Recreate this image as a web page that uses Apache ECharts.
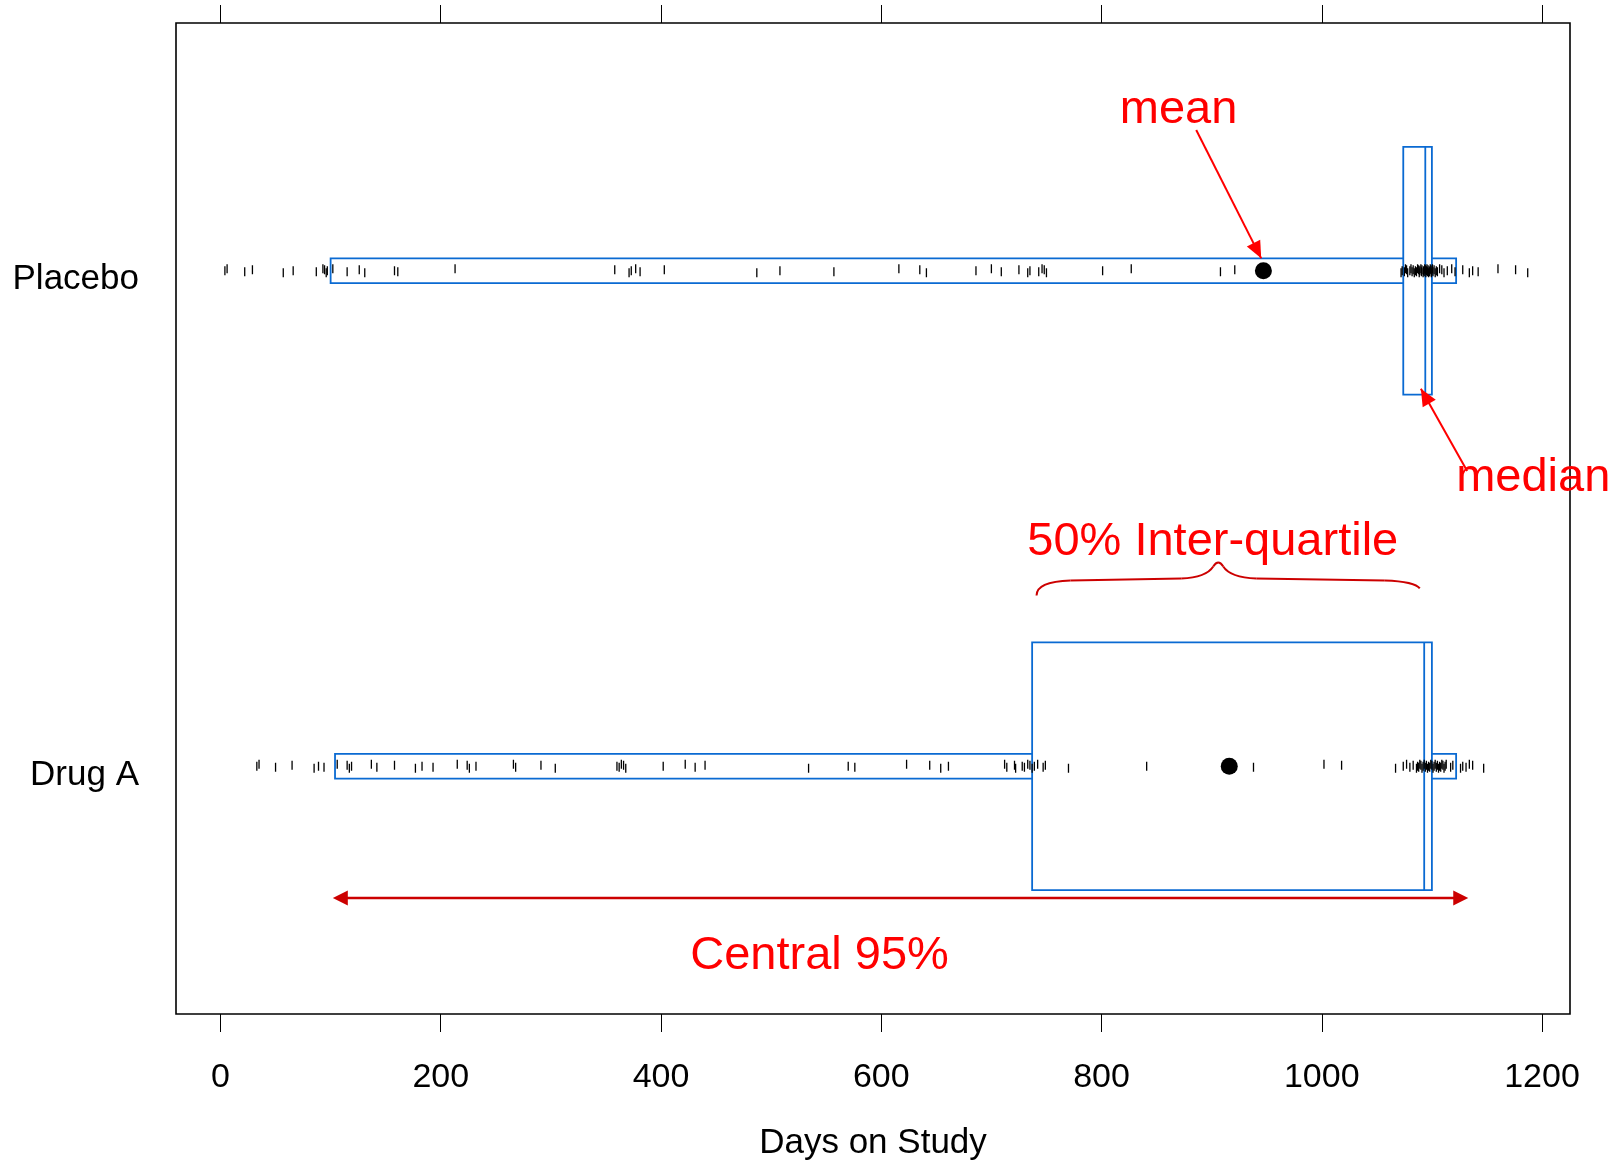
<!DOCTYPE html>
<html>
<head>
<meta charset="utf-8">
<script src="https://cdn.jsdelivr.net/npm/echarts@6/dist/echarts.min.js"></script>
<style>
html,body{margin:0;padding:0;background:#fff;}
#main{width:1621px;height:1161px;}
</style>
</head>
<body>
<div id="main"></div>
<script>
// ---------------- DATA ----------------
const groups = ['Placebo', 'Drug A'];
const groupPos = [2, 1];
const lo95 = [100, 104];
const q1 = [1074, 737];
const median = [1094, 1093];
const q3 = [1100, 1100];
const hi95 = [1122, 1122];
const means = [947, 916];
const xTicks = [0, 200, 400, 600, 800, 1000, 1200];

const placeboRug = [4, 6, 22, 29, 57, 66, 87, 93, 94.5, 96, 97, 102, 115, 126, 131, 158, 161, 213,
  358, 371, 373, 377, 381, 403, 487, 508, 557, 616, 635, 641, 686, 700, 709, 725, 733, 735, 743,
  746, 748, 750, 801, 827, 908, 921,
  1072, 1073, 1075, 1076, 1077, 1078, 1080, 1081, 1082, 1083, 1084, 1085, 1086, 1087, 1088, 1088.5,
  1089, 1090, 1090.5, 1091, 1092, 1092.5, 1093, 1093.5, 1094, 1094.5, 1095, 1095.5, 1096, 1096.5,
  1097, 1097.5, 1098, 1098.5, 1099, 1099.5, 1100, 1100.5, 1101, 1102, 1103, 1104, 1105, 1107,
  1109, 1111, 1114, 1118, 1121, 1128, 1134, 1137, 1142, 1160, 1176, 1187];

const drugRug = [33, 35, 50, 65, 85, 89, 94, 106, 115, 117, 119, 137, 142, 158, 177, 183, 193, 215,
  224, 226, 232, 266, 268, 291, 304, 360, 362, 364, 366, 368, 402, 422, 431, 440, 534, 570, 576,
  623, 644, 654, 661, 712, 714, 721, 722, 728, 730, 733, 735, 737, 739, 742, 747, 749, 770, 841,
  938, 1002, 1018, 1067, 1074, 1077, 1080, 1083, 1086, 1087, 1088, 1089, 1090, 1091, 1092, 1093,
  1094, 1095, 1096, 1097, 1098, 1099, 1100, 1101, 1102, 1103, 1104, 1105, 1106, 1107, 1108, 1109,
  1110, 1111, 1112, 1113, 1117, 1119, 1126, 1128, 1131, 1134, 1137, 1147];

// annotation anchors (data coordinates)
const meanLabel = {text: 'mean', at: [870, 2.325], from: [886, 2.284], to: [945, 2.025]};
const medianLabel = {text: 'median', at: [1192, 1.582], from: [1132, 1.596], to: [1090, 1.762]};
const iqrLabel = {text: '50% Inter-quartile', at: [901, 1.452], braceL: 741, braceR: 1089, braceMid: 906, braceY: 1.377};
const centralLabel = {text: 'Central 95%', at: [544, 0.616], from: 102, to: 1133, y: 0.734};

// ---------------- STYLE ----------------
const FONT = "'Liberation Sans', Arial, Helvetica, sans-serif";
const BOX_BLUE = '#0a6ad2';
const jitter = [0, -2, 1, -1, 2, 0, 1, -2, -1, 2];

const chart = echarts.init(document.getElementById('main'), null, {renderer: 'canvas'});

function rugData(vals, y) {
  return vals.map((v, i) => ({value: [v, y], symbolOffset: [0, jitter[i % jitter.length]]}));
}

const boxData = groups.map((g, i) => [groupPos[i], lo95[i], hi95[i], q1[i], median[i], q3[i]]);

const option = {
  animation: false,
  backgroundColor: '#fff',
  grid: {left: 176, right: 51, top: 23, bottom: 147, show: true, borderColor: '#000', borderWidth: 1.6,
    backgroundColor: 'transparent', containLabel: false, outerBoundsMode: 'none'},
  xAxis: [
    {
      type: 'value', position: 'bottom', min: -40.4, max: 1225.4,
      splitLine: {show: false}, axisLine: {show: false},
      axisTick: {show: true, customValues: xTicks, length: 18, inside: false, lineStyle: {color: '#000', width: 1}},
      axisLabel: {show: true, customValues: xTicks, fontSize: 34, fontFamily: FONT, color: '#000', margin: 47,
        formatter: v => String(v)},
      name: 'Days on Study', nameLocation: 'middle', nameGap: 112,
      nameTextStyle: {fontSize: 35, fontFamily: FONT, color: '#000'}
    },
    {
      type: 'value', position: 'top', min: -40.4, max: 1225.4,
      splitLine: {show: false}, axisLine: {show: false},
      axisTick: {show: true, customValues: xTicks, length: 18, lineStyle: {color: '#000', width: 1}},
      axisLabel: {show: false}
    }
  ],
  yAxis: {
    type: 'value', min: 0.5, max: 2.5,
    splitLine: {show: false}, axisLine: {show: false}, axisTick: {show: false},
    axisLabel: {
      customValues: groupPos, color: '#000', margin: 37,
      formatter: v => '{g|' + (groups[groupPos.indexOf(v)] || '') + '}',
      rich: {g: {fontSize: 35, fontFamily: FONT, color: '#000', padding: [18, 0, 0, 0]}}
    }
  },
  series: [
    {
      type: 'custom', name: 'boxes', z: 2,
      data: boxData,
      encode: {x: [1, 2, 3, 4, 5], y: 0},
      renderItem: function (params, api) {
        const y = api.value(0);
        const pLo = api.coord([api.value(1), y]);
        const pHi = api.coord([api.value(2), y]);
        const pQ1 = api.coord([api.value(3), y]);
        const pMed = api.coord([api.value(4), y]);
        const pQ3 = api.coord([api.value(5), y]);
        const hNarrow = api.size([0, 0.025])[1];
        const hTall = api.size([0, 0.25])[1];
        const ls = {stroke: BOX_BLUE, lineWidth: 1.8};
        return {
          type: 'group',
          children: [
            {type: 'rect', shape: {x: pLo[0], y: pLo[1] - hNarrow, width: pHi[0] - pLo[0], height: 2 * hNarrow},
              style: Object.assign({fill: 'none'}, ls)},
            {type: 'rect', shape: {x: pQ1[0], y: pQ1[1] - hTall, width: pQ3[0] - pQ1[0], height: 2 * hTall},
              style: Object.assign({fill: '#fff'}, ls)},
            {type: 'line', shape: {x1: pMed[0], y1: pMed[1] - hTall, x2: pMed[0], y2: pMed[1] + hTall},
              style: ls}
          ]
        };
      }
    },
    {
      type: 'scatter', name: 'Placebo rug', z: 3, symbol: 'rect', symbolSize: [1.3, 9],
      itemStyle: {color: '#000', opacity: 1}, data: rugData(placeboRug, groupPos[0]), silent: true
    },
    {
      type: 'scatter', name: 'Drug A rug', z: 3, symbol: 'rect', symbolSize: [1.3, 9],
      itemStyle: {color: '#000', opacity: 1}, data: rugData(drugRug, groupPos[1]), silent: true
    },
    {
      type: 'scatter', name: 'mean', z: 4, symbol: 'circle', symbolSize: 17,
      itemStyle: {color: '#000', opacity: 1}, data: means.map((m, i) => [m, groupPos[i]])
    }
  ]
};
chart.setOption(option);

// ---------------- ANNOTATIONS ----------------
function px(p) { return chart.convertToPixel({xAxisIndex: 0, yAxisIndex: 0}, p); }
function head(tip, from, color, len, w) {
  const dx = tip[0] - from[0], dy = tip[1] - from[1];
  const L = Math.sqrt(dx * dx + dy * dy);
  const ux = dx / L, uy = dy / L, nx = -uy, ny = ux;
  const bx = tip[0] - ux * len, by = tip[1] - uy * len;
  return {type: 'polygon', z: 100, shape: {points: [tip, [bx + nx * w / 2, by + ny * w / 2], [bx - nx * w / 2, by - ny * w / 2]]},
    style: {fill: color}};
}
function line(a, b, color, w) {
  return {type: 'line', z: 100, shape: {x1: a[0], y1: a[1], x2: b[0], y2: b[1]}, style: {stroke: color, lineWidth: w}};
}
function quad(p0, c, p1, color, w) {
  return {type: 'bezierCurve', z: 100, shape: {x1: p0[0], y1: p0[1], cpx1: c[0], cpy1: c[1], x2: p1[0], y2: p1[1]},
    style: {stroke: color, lineWidth: w, fill: 'none'}};
}
function text(t, p) {
  return {type: 'text', z: 100, style: {text: t, x: p[0], y: p[1], fill: '#ff0000', fontSize: 47, fontFamily: FONT,
    align: 'center', verticalAlign: 'middle'}};
}
const RED = '#ff0000';
const DARKRED = '#cc0000';
const els = [];
// mean
let a = px(meanLabel.from), b = px(meanLabel.to);
els.push(text(meanLabel.text, px(meanLabel.at)));
els.push(line(a, b, RED, 2));
els.push(head(b, a, RED, 17, 15));
// median
a = px(medianLabel.from); b = px(medianLabel.to);
els.push(text(medianLabel.text, px(medianLabel.at)));
els.push(line(a, b, RED, 2));
els.push(head(b, a, RED, 17, 15));
// IQR brace
els.push(text(iqrLabel.text, px(iqrLabel.at)));
const Lb = px([iqrLabel.braceL, iqrLabel.braceY])[0];
const Rb = px([iqrLabel.braceR, iqrLabel.braceY])[0];
const Mb = px([iqrLabel.braceMid, iqrLabel.braceY])[0];
const yb = px([iqrLabel.braceMid, iqrLabel.braceY])[1];
els.push(quad([Lb, yb + 16], [Lb, yb + 2], [Lb + 34, yb + 1], DARKRED, 2));
els.push(line([Lb + 34, yb + 1], [Mb - 37, yb - 1], DARKRED, 2));
els.push(quad([Mb - 37, yb - 1], [Mb - 12, yb - 2], [Mb - 5, yb - 13], DARKRED, 2));
els.push(quad([Mb - 5, yb - 13], [Mb, yb - 21], [Mb + 5, yb - 13], DARKRED, 2));
els.push(quad([Mb + 5, yb - 13], [Mb + 12, yb - 2], [Mb + 38, yb - 1], DARKRED, 2));
els.push(line([Mb + 38, yb - 1], [Rb - 35, yb + 1], DARKRED, 2));
els.push(quad([Rb - 35, yb + 1], [Rb - 5, yb + 2], [Rb, yb + 9], DARKRED, 2));
// Central 95%
const cL = px([centralLabel.from, centralLabel.y]);
const cR = px([centralLabel.to, centralLabel.y]);
els.push(line([cL[0] + 10, cL[1]], [cR[0] - 10, cR[1]], DARKRED, 2.5));
els.push(head(cL, cR, DARKRED, 15, 15));
els.push(head(cR, cL, DARKRED, 15, 15));
els.push(text(centralLabel.text, px(centralLabel.at)));

chart.setOption({graphic: {elements: els}});
</script>
</body>
</html>
